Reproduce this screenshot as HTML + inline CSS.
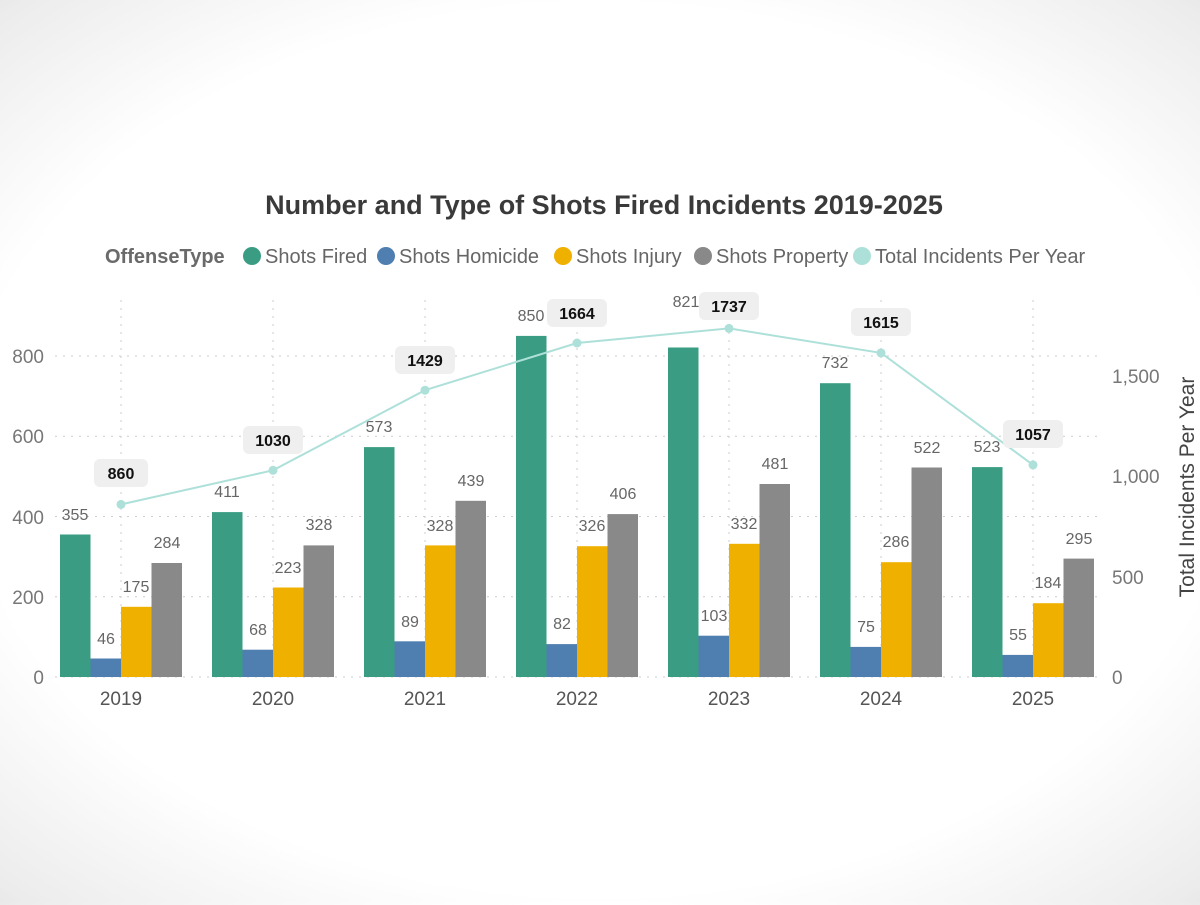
<!DOCTYPE html>
<html><head><meta charset="utf-8"><style>
html,body{margin:0;padding:0}
body{width:1200px;height:900px;overflow:hidden;background:radial-gradient(ellipse 85% 80% at 50% 50%,#fff 0%,#fff 62%,#ececec 84%,#cfcfcf 100%);font-family:"Liberation Sans","DejaVu Sans",sans-serif}
</style></head><body>
<svg width="1200" height="900" xmlns="http://www.w3.org/2000/svg" font-family="Liberation Sans, DejaVu Sans, sans-serif">
<text x="604" y="214" text-anchor="middle" font-size="27" font-weight="bold" fill="#3a3a3a">Number and Type of Shots Fired Incidents 2019-2025</text>
<g font-size="20" fill="#666">
<text x="105" y="263" font-weight="bold" fill="#6a6a6a">OffenseType</text>
<circle cx="252" cy="256" r="9" fill="#3a9c82"/><text x="265" y="263">Shots Fired</text>
<circle cx="386" cy="256" r="9" fill="#4f7fb0"/><text x="399" y="263">Shots Homicide</text>
<circle cx="563" cy="256" r="9" fill="#f0b000"/><text x="576" y="263">Shots Injury</text>
<circle cx="703" cy="256" r="9" fill="#898989"/><text x="716" y="263">Shots Property</text>
<circle cx="862" cy="256" r="9" fill="#aee0da"/><text x="875" y="263">Total Incidents Per Year</text>
</g>
<g stroke="#ccc" stroke-dasharray="2,6" stroke-width="1">
<line x1="55" x2="1100" y1="596.7" y2="596.7"/><line x1="55" x2="1100" y1="516.5" y2="516.5"/><line x1="55" x2="1100" y1="436.2" y2="436.2"/><line x1="55" x2="1100" y1="356" y2="356"/>
<line x1="55" x2="1100" y1="677" y2="677"/>
<line x1="121" x2="121" y1="300" y2="677"/><line x1="273" x2="273" y1="300" y2="677"/><line x1="425" x2="425" y1="300" y2="677"/><line x1="577" x2="577" y1="300" y2="677"/><line x1="729" x2="729" y1="300" y2="677"/><line x1="881" x2="881" y1="300" y2="677"/><line x1="1033" x2="1033" y1="300" y2="677"/>
</g>
<g font-size="19" fill="#777" text-anchor="end">
<text x="44" y="684">0</text><text x="44" y="604">200</text><text x="44" y="524">400</text><text x="44" y="443">600</text><text x="44" y="363">800</text>
</g>
<g font-size="19" fill="#777">
<text x="1112" y="684">0</text><text x="1112" y="584">500</text><text x="1112" y="483">1,000</text><text x="1112" y="383">1,500</text>
</g>
<text transform="translate(1194,487) rotate(-90)" text-anchor="middle" font-size="21" fill="#444">Total Incidents Per Year</text>
<g font-size="19" fill="#555" text-anchor="middle">
<text x="121" y="705">2019</text><text x="273" y="705">2020</text><text x="425" y="705">2021</text><text x="577" y="705">2022</text><text x="729" y="705">2023</text><text x="881" y="705">2024</text><text x="1033" y="705">2025</text>
</g>
<g>
<rect x="60" y="534.5" width="30.5" height="142.5" fill="#3a9c82"/><rect x="90.5" y="658.5" width="30.5" height="18.5" fill="#4f7fb0"/><rect x="121" y="606.8" width="30.5" height="70.2" fill="#f0b000"/><rect x="151.5" y="563" width="30.5" height="114" fill="#898989"/>
<rect x="212" y="512.1" width="30.5" height="164.9" fill="#3a9c82"/><rect x="242.5" y="649.7" width="30.5" height="27.3" fill="#4f7fb0"/><rect x="273" y="587.5" width="30.5" height="89.5" fill="#f0b000"/><rect x="303.5" y="545.4" width="30.5" height="131.6" fill="#898989"/>
<rect x="364" y="447.1" width="30.5" height="229.9" fill="#3a9c82"/><rect x="394.5" y="641.3" width="30.5" height="35.7" fill="#4f7fb0"/><rect x="425" y="545.4" width="30.5" height="131.6" fill="#f0b000"/><rect x="455.5" y="500.8" width="30.5" height="176.2" fill="#898989"/>
<rect x="516" y="335.9" width="30.5" height="341.1" fill="#3a9c82"/><rect x="546.5" y="644.1" width="30.5" height="32.9" fill="#4f7fb0"/><rect x="577" y="546.2" width="30.5" height="130.8" fill="#f0b000"/><rect x="607.5" y="514.1" width="30.5" height="162.9" fill="#898989"/>
<rect x="668" y="347.5" width="30.5" height="329.5" fill="#3a9c82"/><rect x="698.5" y="635.7" width="30.5" height="41.3" fill="#4f7fb0"/><rect x="729" y="543.8" width="30.5" height="133.2" fill="#f0b000"/><rect x="759.5" y="484" width="30.5" height="193" fill="#898989"/>
<rect x="820" y="383.2" width="30.5" height="293.8" fill="#3a9c82"/><rect x="850.5" y="646.9" width="30.5" height="30.1" fill="#4f7fb0"/><rect x="881" y="562.2" width="30.5" height="114.8" fill="#f0b000"/><rect x="911.5" y="467.5" width="30.5" height="209.5" fill="#898989"/>
<rect x="972" y="467.1" width="30.5" height="209.9" fill="#3a9c82"/><rect x="1002.5" y="654.9" width="30.5" height="22.1" fill="#4f7fb0"/><rect x="1033" y="603.2" width="30.5" height="73.8" fill="#f0b000"/><rect x="1063.5" y="558.6" width="30.5" height="118.4" fill="#898989"/>
</g>
<g font-size="16" fill="#666" text-anchor="middle">
<text x="75" y="520">355</text><text x="106" y="644">46</text><text x="136" y="592">175</text><text x="167" y="548">284</text>
<text x="227" y="497">411</text><text x="258" y="635">68</text><text x="288" y="573">223</text><text x="319" y="530">328</text>
<text x="379" y="432">573</text><text x="410" y="627">89</text><text x="440" y="531">328</text><text x="471" y="486">439</text>
<text x="531" y="321">850</text><text x="562" y="629">82</text><text x="592" y="531">326</text><text x="623" y="499">406</text>
<text x="686" y="307">821</text><text x="714" y="621">103</text><text x="744" y="529">332</text><text x="775" y="469">481</text>
<text x="835" y="368">732</text><text x="866" y="632">75</text><text x="896" y="547">286</text><text x="927" y="453">522</text>
<text x="987" y="452">523</text><text x="1018" y="640">55</text><text x="1048" y="588">184</text><text x="1079" y="544">295</text>
</g>
<polyline points="121,504.4 273,470.3 425,390.2 577,343 729,328.4 881,352.9 1033,464.9" fill="none" stroke="#aee0da" stroke-width="2"/>
<g fill="#aee0da">
<circle cx="121" cy="504.4" r="4.5"/><circle cx="273" cy="470.3" r="4.5"/><circle cx="425" cy="390.2" r="4.5"/><circle cx="577" cy="343" r="4.5"/><circle cx="729" cy="328.4" r="4.5"/><circle cx="881" cy="352.9" r="4.5"/><circle cx="1033" cy="464.9" r="4.5"/>
</g>
<g fill="#efefef">
<rect x="94" y="459" width="54" height="28" rx="6"/><rect x="243" y="426" width="60" height="28" rx="6"/><rect x="395" y="346" width="60" height="28" rx="6"/><rect x="547" y="299" width="60" height="28" rx="6"/><rect x="699" y="292" width="60" height="28" rx="6"/><rect x="851" y="308" width="60" height="28" rx="6"/><rect x="1003" y="420" width="60" height="28" rx="6"/>
</g>
<g font-size="16" font-weight="bold" fill="#111" text-anchor="middle">
<text x="121" y="479">860</text><text x="273" y="446">1030</text><text x="425" y="366">1429</text><text x="577" y="319">1664</text><text x="729" y="312">1737</text><text x="881" y="328">1615</text><text x="1033" y="440">1057</text>
</g>
</svg>
</body></html>
